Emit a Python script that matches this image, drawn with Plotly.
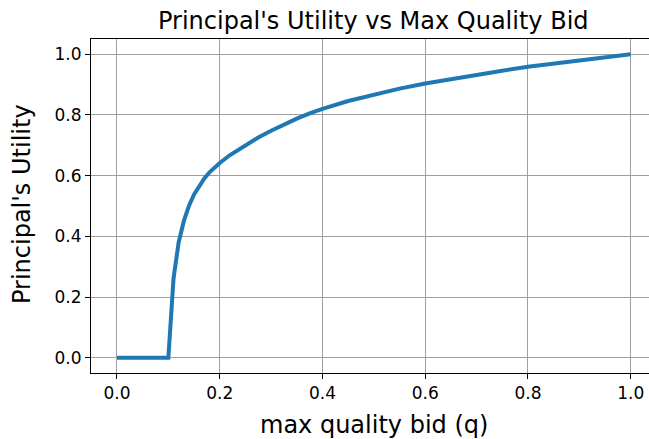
import plotly.graph_objects as go

q_vals = [0.0, 0.10, 0.11, 0.12, 0.13, 0.14, 0.15, 0.16, 0.17, 0.18, 0.19, 0.20,
          0.22, 0.25, 0.275, 0.30, 0.325, 0.35, 0.375, 0.40, 0.45, 0.50, 0.55, 0.60, 0.65,
          0.70, 0.75, 0.80, 0.85, 0.90, 0.95, 1.0]
utility = [0.0, 0.0, 0.26, 0.38, 0.45, 0.50, 0.538, 0.567, 0.591, 0.611, 0.628, 0.642,
           0.668, 0.700, 0.726, 0.748, 0.769, 0.788, 0.805, 0.820, 0.846, 0.868, 0.887, 0.904, 0.919,
           0.933, 0.946, 0.959, 0.970, 0.980, 0.990, 1.0]
tick_vals = [0.0, 0.2, 0.4, 0.6, 0.8, 1.0]
tick_text = ["0.0", "0.2", "0.4", "0.6", "0.8", "1.0"]

title_text = "Principal's Utility vs Max Quality Bid"
x_label = "max quality bid (q)"
y_label = "Principal's Utility"

FONT = "DejaVu Sans"

fig = go.Figure()
fig.add_trace(go.Scatter(x=q_vals, y=utility, mode="lines",
                         line=dict(color="#1f77b4", width=4),
                         showlegend=False, hoverinfo="skip"))

axis_common = dict(
    showgrid=True, gridcolor="#9e9e9e", gridwidth=1.2,
    zeroline=False, showline=True, linecolor="black", linewidth=1,
    ticks="outside", ticklen=5, tickwidth=1, tickcolor="black",
    tickvals=tick_vals, ticktext=tick_text,
    tickfont=dict(family=FONT, size=17, color="black"),
)

fig.update_layout(
    width=649, height=439,
    margin=dict(l=91, r=0, t=39, b=66),
    paper_bgcolor="white", plot_bgcolor="white",
    font=dict(family=FONT, color="black"),
    xaxis=dict(range=[-0.0506, 1.0356], mirror=True, **axis_common),
    yaxis=dict(range=[-0.0504, 1.0504], mirror=False, **axis_common),
    annotations=[
        dict(text=title_text, xref="paper", yref="paper", x=0.507, y=1.054,
             xanchor="center", yanchor="middle", showarrow=False,
             font=dict(family=FONT, size=24, color="black")),
        dict(text=x_label, xref="paper", yref="paper", x=0.507, y=(373 - 425) / 334,
             xanchor="center", yanchor="middle", showarrow=False,
             font=dict(family=FONT, size=24, color="black")),
        dict(text=y_label, xref="paper", yref="paper", x=(22 - 91) / 558, y=0.506,
             xanchor="center", yanchor="middle", showarrow=False, textangle=-90,
             font=dict(family=FONT, size=24, color="black")),
    ],
)

fig.write_html("out.html")
